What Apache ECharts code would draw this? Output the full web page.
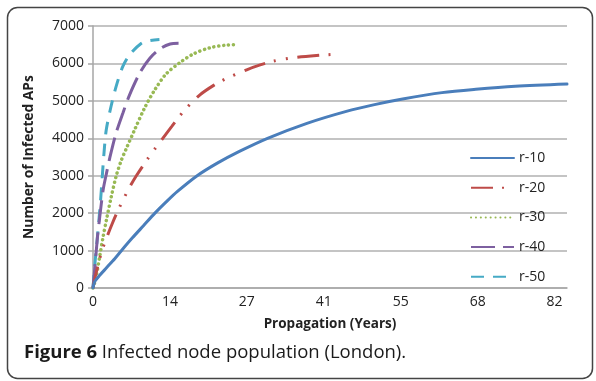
<!DOCTYPE html>
<html><head><meta charset="utf-8">
<script src="https://cdn.jsdelivr.net/npm/echarts@6/dist/echarts.min.js"></script>
<style>html,body{margin:0;padding:0;background:#fff}#c{width:596px;height:381px}</style>
</head><body><div id="c"></div>
<script>
const seriesNames = ['r-10', 'r-20', 'r-30', 'r-40', 'r-50'];
const r10Years  = [0, 0.3, 1.2, 2.4, 3.9, 5, 7, 9, 11, 13, 15, 18.5, 22, 26, 31, 38, 45, 50, 55, 62, 68, 75, 84.2];
const r10Values = [0, 170, 340, 540, 790, 990, 1340, 1670, 2000, 2300, 2580, 3000, 3330, 3650, 4000, 4400, 4720, 4900, 5050, 5220, 5310, 5390, 5450];
const r20Years  = [0, 0.4, 0.8, 1.6, 2.7, 3.5, 4.4, 5.5, 6.6, 7.7, 9.8, 11, 12.3, 14, 16.3, 19, 21.5, 23.7, 27.3, 29.7, 32, 35, 39.7, 43.7];
const r20Values = [0, 300, 560, 1000, 1450, 1750, 2060, 2400, 2720, 3000, 3470, 3720, 3980, 4320, 4760, 5160, 5420, 5600, 5830, 5960, 6060, 6140, 6210, 6250];
const r30Years  = [0, 0.3, 0.6, 1.2, 1.8, 2.4, 3.25, 4.1, 5, 5.9, 7.4, 9.2, 11, 13, 15.5, 17.8, 20.8, 23.7, 25.8];
const r30Values = [0, 150, 330, 850, 1370, 1830, 2440, 2980, 3400, 3720, 4230, 4820, 5300, 5720, 6030, 6250, 6420, 6490, 6500];
const r40Years  = [0, 0.3, 0.8, 1.2, 1.8, 2.4, 3.0, 4.1, 5.3, 6.5, 8.3, 10.1, 12.1, 13.7, 15.2];
const r40Values = [0, 500, 1370, 1900, 2620, 3070, 3490, 4140, 4670, 5160, 5740, 6140, 6410, 6520, 6540];
const r50Years  = [0, 0.4, 0.85, 1.1, 1.35, 1.65, 1.95, 2.35, 3.2, 4.1, 5.3, 6.5, 8.6, 10, 11.8];
const r50Values = [0, 750, 1470, 1900, 2350, 2980, 3600, 4220, 4850, 5380, 5920, 6230, 6540, 6610, 6640];
const xTickValues = [0, 13.67, 27.33, 41, 54.67, 68.33, 82];
const xTickLabels = ['0', '14', '27', '41', '55', '68', '82'];
const yTicks = [0, 1000, 2000, 3000, 4000, 5000, 6000, 7000];

const colors = ['#4A7EBB', '#BE4B48', '#98B954', '#7D60A0', '#46AAC5'];
const dashes = ['solid', [22, 9, 2, 10, 2, 10], [0.1, 4.8], [24, 8], [13, 9]];
const caps = ['round', 'butt', 'round', 'butt', 'butt'];
const widths = [3, 3, 3.5, 3, 3];
const years = [r10Years, r20Years, r30Years, r40Years, r50Years];
const vals = [r10Values, r20Values, r30Values, r40Values, r50Values];
const FONT = '"Open Sans", sans-serif';

const chart = echarts.init(document.getElementById('c'), null, {renderer: 'canvas'});
chart.setOption({
  animation: false,
  backgroundColor: '#fff',
  textStyle: {fontFamily: FONT},
  grid: {left: 93, right: 29, top: 26, bottom: 93, containLabel: false},
  graphic: [{
    type: 'rect', left: 5, top: 5,
    shape: {width: 585, height: 371, r: 10},
    style: {fill: 'none', stroke: '#444', lineWidth: 1.5}
  }],
  title: {
    left: 19, top: 338,
    text: '{b|Figure 6} {n|Infected node population (London).}',
    textStyle: {
      rich: {
        b: {fontFamily: FONT, fontWeight: 'bold', fontSize: 18.5, color: '#1a1a1a'},
        n: {fontFamily: FONT, fontWeight: 'normal', fontSize: 18.5, color: '#1a1a1a'}
      }
    }
  },
  legend: {
    orient: 'vertical', left: 465, top: 146,
    itemWidth: 43, itemHeight: 14, itemGap: 15.7,
    itemStyle: {opacity: 0},
    textStyle: {fontFamily: FONT, fontSize: 14, color: '#222'},
    data: seriesNames
  },
  xAxis: {
    type: 'value', min: 0, max: 84.2,
    name: 'Propagation (Years)', nameLocation: 'middle', nameGap: 29,
    nameTextStyle: {fontFamily: FONT, fontWeight: 'bold', fontSize: 13.5, color: '#222'},
    axisLine: {show: true, lineStyle: {color: '#a6a6a6', width: 1.5}},
    axisTick: {show: false},
    splitLine: {show: false},
    axisLabel: {
      customValues: xTickValues, margin: 7,
      fontFamily: FONT, fontSize: 14, color: '#222',
      formatter: v => { const i = xTickValues.findIndex(t => Math.abs(t - v) < 1e-6); return i >= 0 ? xTickLabels[i] : ''; }
    }
  },
  yAxis: {
    type: 'value', min: 0, max: 7000, interval: 1000,
    name: 'Number of Infected APs', nameLocation: 'middle', nameGap: 57,
    nameTextStyle: {fontFamily: FONT, fontWeight: 'bold', fontSize: 13.8, color: '#222'},
    axisLine: {show: true, lineStyle: {color: '#a6a6a6', width: 1.5}},
    axisTick: {show: true, length: 5, lineStyle: {color: '#a6a6a6', width: 1.5}},
    splitLine: {show: true, lineStyle: {color: '#b0b0b0', width: 1.5}},
    axisLabel: {margin: 9, fontFamily: FONT, fontSize: 14, color: '#222',
      formatter: v => yTicks.includes(v) ? String(v) : ''}
  },
  series: seriesNames.map((n, i) => ({
    name: n, type: 'line', smooth: 0.3, showSymbol: false, symbol: 'none',
    data: years[i].map((x, j) => [x, vals[i][j]]),
    lineStyle: {color: colors[i], width: widths[i], type: dashes[i], cap: caps[i]},
    itemStyle: {color: colors[i]},
    z: 10 - i
  }))
});
</script></body></html>
